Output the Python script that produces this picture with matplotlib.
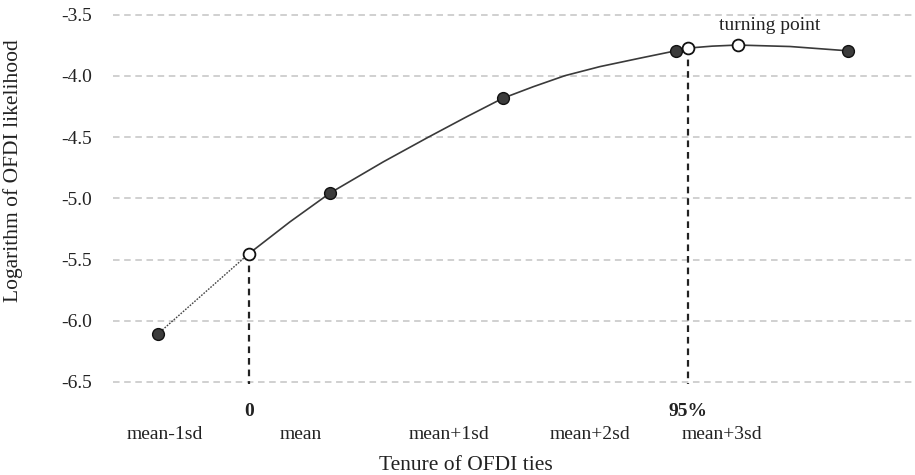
import matplotlib
matplotlib.use('Agg')
import matplotlib.pyplot as plt
import matplotlib.transforms as mtransforms

plt.rcParams['font.family'] = ['Liberation Serif', 'DejaVu Serif']

# x in sd units (0 = mean), y = log of OFDI likelihood
# solid fitted curve
curve_x = [-0.470, -0.232, 0.0, 0.309, 0.568, 0.792, 1.001, 1.179, 1.362, 1.565, 1.797,
           2.004, 2.074, 2.215, 2.363, 2.667, 3.001]
curve_y = [-5.452, -5.192, -4.957, -4.702, -4.502, -4.334, -4.183, -4.088, -3.998, -3.924, -3.855,
           -3.795, -3.773, -3.757, -3.748, -3.760, -3.795]

# extrapolated part below tenure 0 (dotted)
dotted_x = [-0.999, -0.470]
dotted_y = [-6.109, -5.452]

filled_x = [-0.999, 0.0, 1.001, 2.004, 3.001]
filled_y = [-6.109, -4.957, -4.183, -3.795, -3.795]

open_x = [-0.470, 2.074, 2.363]
open_y = [-5.452, -3.773, -3.748]

# vertical markers (tenure 0 and 95th percentile)
vline_x = [-0.470, 2.074]
vline_top = [-5.452, -3.773]
vline_labels = ['0', '95%']

cat_pos = [-0.957, -0.168, 0.690, 1.507, 2.270]
cat_labels = ['mean-1sd', 'mean', 'mean+1sd', 'mean+2sd', 'mean+3sd']

yticks = [-3.5, -4.0, -4.5, -5.0, -5.5, -6.0, -6.5]

fig = plt.figure(figsize=(9.15, 4.75), dpi=100)
ax = fig.add_axes([0.1235, 0.165, 0.8765, 0.835])

ax.set_xlim(-1.258, 3.391)
ax.set_ylim(-6.62, -3.38)

for s in ax.spines.values():
    s.set_visible(False)

ax.set_yticks(yticks)
ax.set_yticklabels([f'{v:.1f}' for v in yticks])
ax.tick_params(axis='y', length=0, pad=15, labelsize=14, labelcolor='#222222')
ax.grid(axis='y', color='#c4c4c4', linestyle=(0, (4.3, 3.0)), linewidth=1.1)
ax.set_axisbelow(True)

ax.set_xticks(cat_pos)
ax.set_xticklabels(cat_labels)
ax.tick_params(axis='x', length=0, pad=21.5, labelsize=14, labelcolor='#222222')

# vertical dashed lines
for vx, vt in zip(vline_x, vline_top):
    ax.plot([vx, vx], [vt, -6.52], color='#222222', linestyle=(0, (3.0, 2.2)), linewidth=1.6, zorder=2)

trans = mtransforms.blended_transform_factory(ax.transData, ax.transAxes)
for vx, lab in zip(vline_x, vline_labels):
    ax.text(vx, -0.017, lab, transform=trans, ha='center', va='top', fontsize=14,
            fontweight='bold', color='#222222')

ax.plot(dotted_x, dotted_y, color='#444444', linestyle=(0, (1.2, 1.0)), linewidth=1.0, zorder=3)
ax.plot(curve_x, curve_y, color='#3a3a3a', linewidth=1.2, zorder=3)

ax.plot(filled_x, filled_y, linestyle='none', marker='o', markersize=8.5,
        markerfacecolor='#3c3c3c', markeredgecolor='#111111', markeredgewidth=1.0, zorder=4)
ax.plot(open_x, open_y, linestyle='none', marker='o', markersize=8.5,
        markerfacecolor='white', markeredgecolor='#111111', markeredgewidth=1.3, zorder=5)

ax.text(2.551, -3.588, 'turning point', ha='center', va='center', fontsize=14, color='#222222')

ax.set_xlabel('Tenure of OFDI ties', fontsize=15.5, color='#222222')
ax.xaxis.set_label_coords(0.440, -0.150)
ax.set_ylabel('Logarithm of OFDI likelihood', fontsize=15.5, color='#222222')
ax.yaxis.set_label_coords(-0.112, 0.569)

plt.savefig('out.png', dpi=100)
plt.close()
